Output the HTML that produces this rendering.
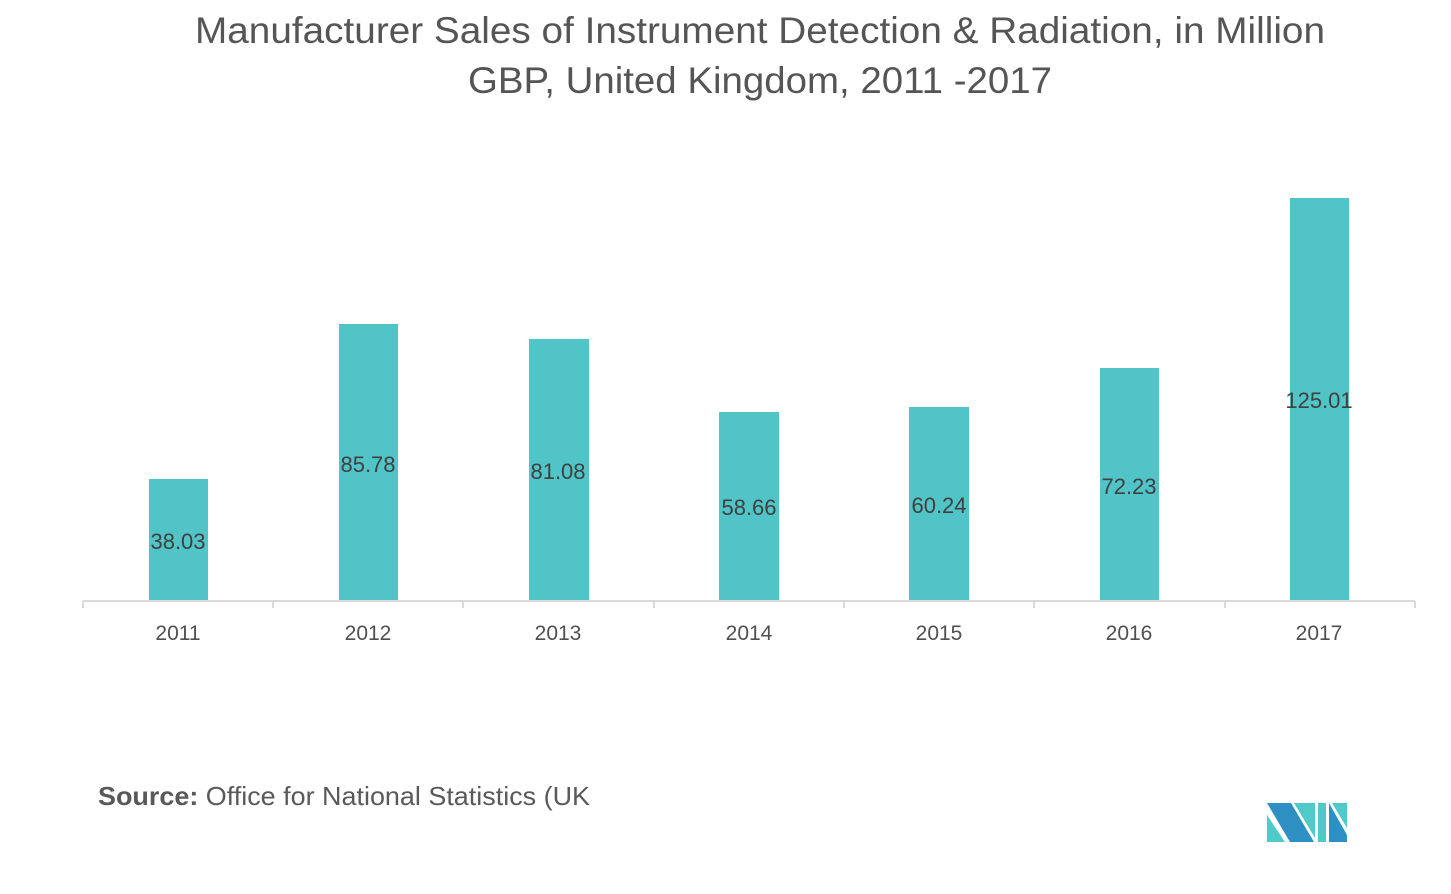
<!DOCTYPE html>
<html><head><style>
body{margin:0;background:#fff;width:1451px;height:889px;overflow:hidden;font-family:"Liberation Sans",sans-serif}
</style></head><body>
<svg width="1451" height="889" xmlns="http://www.w3.org/2000/svg">
<text x="195" y="43" textLength="1130" lengthAdjust="spacingAndGlyphs" font-size="37" fill="#555" font-family="Liberation Sans, sans-serif">Manufacturer Sales of Instrument Detection &amp; Radiation, in Million</text>
<text x="468" y="93" textLength="584" lengthAdjust="spacingAndGlyphs" font-size="37" fill="#555" font-family="Liberation Sans, sans-serif">GBP, United Kingdom, 2011 -2017</text>
<g fill="#50c4c6">
<rect x="149" y="479" width="59" height="122"/>
<rect x="339" y="324" width="59" height="277"/>
<rect x="529" y="339" width="60" height="262"/>
<rect x="719" y="412" width="60" height="189"/>
<rect x="909" y="407" width="60" height="194"/>
<rect x="1100" y="368" width="59" height="233"/>
<rect x="1290" y="198" width="59" height="403"/>
</g>
<g stroke="#d9d9d9" stroke-width="2" fill="none">
<line x1="83" y1="601" x2="1415" y2="601"/>
<line x1="83" y1="601" x2="83" y2="608"/><line x1="273" y1="601" x2="273" y2="608"/>
<line x1="463" y1="601" x2="463" y2="608"/><line x1="654" y1="601" x2="654" y2="608"/>
<line x1="844" y1="601" x2="844" y2="608"/><line x1="1034" y1="601" x2="1034" y2="608"/>
<line x1="1225" y1="601" x2="1225" y2="608"/><line x1="1415" y1="601" x2="1415" y2="608"/>
</g>
<g font-size="22" fill="#404040" text-anchor="middle" font-family="Liberation Sans, sans-serif">
<text x="178" y="549">38.03</text><text x="368" y="472">85.78</text><text x="558" y="479">81.08</text>
<text x="749" y="515">58.66</text><text x="939" y="513">60.24</text><text x="1129" y="494">72.23</text>
<text x="1319" y="408">125.01</text>
</g>
<g font-size="21" fill="#505050" text-anchor="middle" font-family="Liberation Sans, sans-serif">
<text x="178" y="640">2011</text><text x="368" y="640">2012</text><text x="558" y="640">2013</text>
<text x="749" y="640">2014</text><text x="939" y="640">2015</text><text x="1129" y="640">2016</text><text x="1319" y="640">2017</text>
</g>
<text x="98" y="805" textLength="492" lengthAdjust="spacingAndGlyphs" font-size="26" fill="#595959" font-family="Liberation Sans, sans-serif"><tspan font-weight="bold">Source:</tspan> Office for National Statistics (UK</text>
<g>
<polygon points="1267,803 1291,803 1314,842 1290,842" fill="#2e8fc2"/>
<polygon points="1267,815 1285,842 1267,842" fill="#50c9c9"/>
<polygon points="1294,803 1315,803 1315,838" fill="#50c9c9"/>
<polygon points="1318,803 1326,803 1326,842 1318,842" fill="#50c9c9"/>
<polygon points="1329,803 1347,835 1347,842 1329,842" fill="#2e8fc2"/>
<polygon points="1332,803 1347,803 1347,828" fill="#50c9c9"/>
</g>
</svg>
</body></html>
